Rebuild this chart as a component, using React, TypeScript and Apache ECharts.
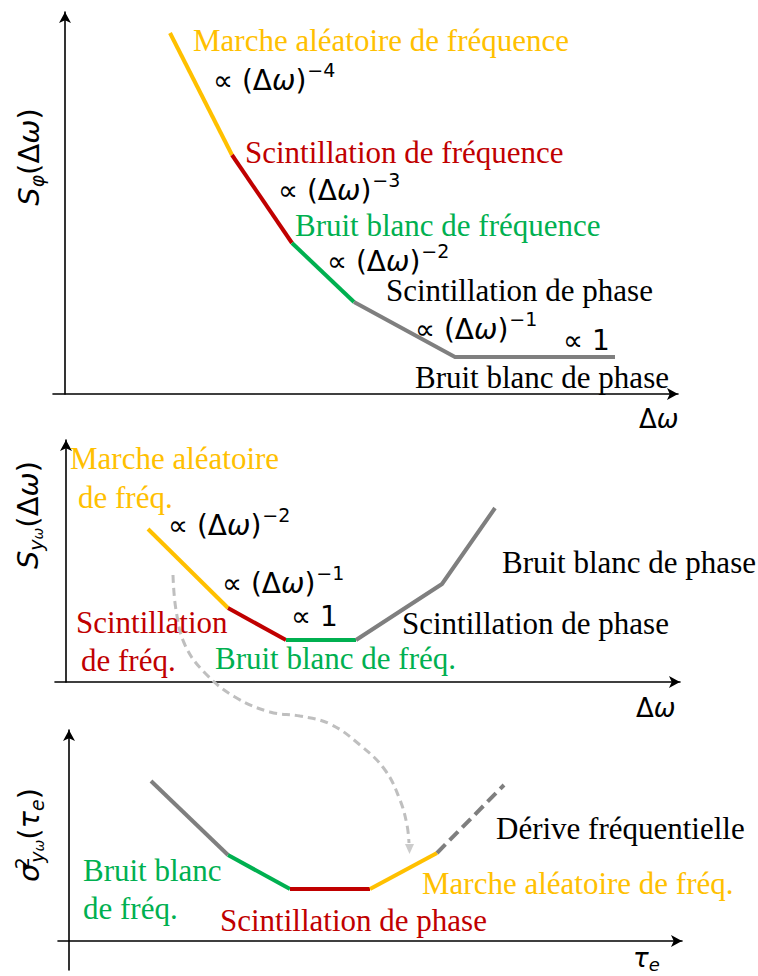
import React, { useEffect, useRef } from 'react';
import * as echarts from 'echarts';

// ---------- DATA (schematic values, 1 unit ≈ 10 px, origin at axis crossing) ----------
// Panel 1 : S_phi(Δω)
const p1X = [10.5, 16.7, 22.7, 28.9, 39.0, 55.0];
const p1Y = [36.1, 23.9, 15.1, 9.2, 3.7, 3.7];
// Panel 2 : S_yω(Δω)
const p2X = [8.2, 16.2, 22.0, 29.0, 37.6, 42.9];
const p2Y = [15.3, 7.4, 4.2, 4.2, 9.8, 17.4];
// Panel 3 : σ²_yω(τe)
const p3X = [8.2, 15.9, 22.1, 30.1, 36.8, 43.5];
const p3Y = [16.0, 8.6, 5.2, 5.2, 8.8, 15.6];
// Dashed grey connecting arrow (page coordinates)
const arcX = [173, 176, 185, 205, 235, 270, 300, 330, 360, 385, 400, 407, 409];
const arcY = [575, 610, 645, 673, 697, 712, 716, 724, 745, 770, 800, 825, 843];
const arcTip = [409.5, 849];

// Labels
const p1Names = ['Marche aléatoire de fréquence', 'Scintillation de fréquence', 'Bruit blanc de fréquence', 'Scintillation de phase', 'Bruit blanc de phase'];
const p1Exps = ['−4', '−3', '−2', '−1'];
const p2Names = ['Marche aléatoire', 'de fréq.', 'Scintillation', 'de fréq.', 'Bruit blanc de fréq.', 'Bruit blanc de phase', 'Scintillation de phase'];
const p2Exps = ['−2', '−1'];
const p3Names = ['Bruit blanc', 'de fréq.', 'Scintillation de phase', 'Marche aléatoire de fréq.', 'Dérive fréquentielle'];

// ---------- STYLES ----------
const SERIF = '"Liberation Serif", "Times New Roman", serif';
const MATH = '"DejaVu Sans", sans-serif';
const MATH_SIZE = 28;
const SUP_SIZE = 19;
const C: Record<string, string> = {
  yellow: '#FFC000', red: '#C00000', green: '#00B050', gray: '#7F7F7F', black: '#000000', arrow: '#BFBFBF',
};
const p1Colors = ['yellow', 'red', 'green', 'gray', 'gray'];
const p2Colors = ['yellow', 'red', 'green', 'gray', 'gray'];
const p3Colors = ['gray', 'green', 'red', 'yellow', 'gray'];
const p1Dash = [false, false, false, false, false];
const p3Dash = [false, false, false, false, true];

function buildSegments(xs: number[], ys: number[], colors: string[], dashes: boolean[], idx: number) {
  const out: any[] = [];
  let start = 0;
  for (let i = 1; i <= colors.length; i++) {
    if (i === colors.length || colors[i] !== colors[start] || dashes[i] !== dashes[start]) {
      const data: number[][] = [];
      for (let k = start; k <= i; k++) data.push([xs[k], ys[k]]);
      out.push({
        type: 'line', xAxisIndex: idx, yAxisIndex: idx, data, symbol: 'none', showSymbol: false, silent: true, z: 3,
        lineStyle: { color: C[colors[start]], width: 4, type: dashes[start] ? [12, 6] : 'solid', join: 'round' },
      });
      start = i;
    }
  }
  return out;
}

function axisPair(idx: number, xmin: number, xmax: number, ymin: number, ymax: number) {
  const line = { show: true, onZero: true, symbol: ['none', 'arrow'], symbolSize: [9, 11], lineStyle: { color: '#000', width: 1.6 } };
  const common = { axisTick: { show: false }, axisLabel: { show: false }, splitLine: { show: false } };
  return {
    x: { type: 'value', gridIndex: idx, min: xmin, max: xmax, axisLine: line, ...common },
    y: { type: 'value', gridIndex: idx, min: ymin, max: ymax, axisLine: line, ...common },
  };
}

function serif(text: string, x: number, y: number, color: string) {
  return {
    type: 'text', x, y, silent: true, z: 10,
    style: { text, fill: color, fontFamily: SERIF, fontSize: 31, align: 'left', verticalAlign: 'middle', textAlign: 'left', textVerticalAlign: 'middle' },
  };
}

let measureCtx: CanvasRenderingContext2D | null = null;
function measure(text: string, font: string) {
  if (!measureCtx) measureCtx = document.createElement('canvas').getContext('2d');
  if (!measureCtx) return text.length * 15;
  measureCtx.font = font;
  return measureCtx.measureText(text).width;
}

const mathRich = {
  b: { fontFamily: MATH, fontSize: MATH_SIZE, lineHeight: 30, fill: '#000' },
  i: { fontFamily: MATH, fontSize: MATH_SIZE, fontStyle: 'italic', lineHeight: 30, fill: '#000' },
};

function law(x: number, y: number, exp: string | null): any[] {
  const base = {
    type: 'text', x, y, silent: true, z: 10,
    style: {
      text: exp ? '{b|∝ (Δ}{i|ω}{b|)}' : '{b|∝ 1}', rich: mathRich,
      align: 'left', verticalAlign: 'middle', textAlign: 'left', textVerticalAlign: 'middle',
    },
  };
  if (!exp) return [base];
  const w = measure('∝ (Δ', `${MATH_SIZE}px "DejaVu Sans"`)
    + measure('ω', `italic ${MATH_SIZE}px "DejaVu Sans"`)
    + measure(')', `${MATH_SIZE}px "DejaVu Sans"`);
  const sup = {
    type: 'text', x: x + w + 1, y: y - 10, silent: true, z: 10,
    style: {
      text: exp, fill: '#000', fontFamily: MATH, fontSize: SUP_SIZE,
      align: 'left', verticalAlign: 'middle', textAlign: 'left', textVerticalAlign: 'middle',
    },
  };
  return [base, sup];
}

const symRich = {
  b: { fontFamily: MATH, fontSize: 29, lineHeight: 34, fill: '#000' },
  it: { fontFamily: MATH, fontSize: 29, fontStyle: 'italic', lineHeight: 34, fill: '#000' },
  sub: { fontFamily: MATH, fontSize: 19, fontStyle: 'italic', lineHeight: 16, verticalAlign: 'bottom', fill: '#000' },
  subsub: { fontFamily: MATH, fontSize: 14, fontStyle: 'italic', lineHeight: 6, verticalAlign: 'bottom', fill: '#000' },
  sup: { fontFamily: MATH, fontSize: 19, lineHeight: 16, verticalAlign: 'top', width: 1, fill: '#000' },
};

const axRich = {
  b: { fontFamily: MATH, fontSize: 26, lineHeight: 30, fill: '#000' },
  it: { fontFamily: MATH, fontSize: 26, fontStyle: 'italic', lineHeight: 30, fill: '#000' },
  sub: { fontFamily: MATH, fontSize: 18, fontStyle: 'italic', lineHeight: 14, verticalAlign: 'bottom', fill: '#000' },
};

function sym(text: string, x: number, y: number, rotated: boolean) {
  return {
    type: 'text', x, y, silent: true, z: 10, rotation: rotated ? Math.PI / 2 : 0,
    style: {
      text, rich: rotated ? symRich : axRich,
      align: rotated ? 'center' : 'left', verticalAlign: 'middle',
      textAlign: rotated ? 'center' : 'left', textVerticalAlign: 'middle',
    },
  };
}

function buildOption() {
  const a1 = axisPair(0, -1.2, 61.3, 0, 38.2);
  const a2 = axisPair(1, -1.1, 61.4, 0, 24.2);
  const a3 = axisPair(2, -1.1, 61.3, -2.9, 21.1);
  const overlayX = { type: 'value', gridIndex: 3, min: 0, max: 758, show: false };
  const overlayY = { type: 'value', gridIndex: 3, min: 0, max: 976, inverse: true, show: false };

  const series: any[] = [
    ...buildSegments(p1X, p1Y, p1Colors, p1Dash, 0),
    ...buildSegments(p2X, p2Y, p2Colors, p1Dash, 1),
    ...buildSegments(p3X, p3Y, p3Colors, p3Dash, 2),
    {
      type: 'line', xAxisIndex: 3, yAxisIndex: 3, smooth: 0.4, symbol: 'none', showSymbol: false, silent: true, z: 2,
      data: arcX.map((x, i) => [x, arcY[i]]),
      lineStyle: { color: C.arrow, width: 3, type: [8, 5] },
    },
    {
      type: 'scatter', xAxisIndex: 3, yAxisIndex: 3, silent: true, z: 2,
      data: [arcTip], symbol: 'triangle', symbolSize: [9, 10], symbolRotate: 180,
      itemStyle: { color: C.arrow },
    },
  ];

  const graphic: any[] = [
    // Panel 1
    serif(p1Names[0], 193, 40, C.yellow),
    serif(p1Names[1], 245, 152, C.red),
    serif(p1Names[2], 295, 225, C.green),
    serif(p1Names[3], 386, 290, C.black),
    serif(p1Names[4], 415, 377, C.black),
    ...law(213, 80, p1Exps[0]),
    ...law(278, 190, p1Exps[1]),
    ...law(327, 261, p1Exps[2]),
    ...law(415, 329, p1Exps[3]),
    ...law(563, 340, null),
    sym('{b|Δ}{it|ω}', 639, 419, false),
    sym('{it|S}{sub|φ}{b|(Δ}{it|ω}{b|)}', 29, 157, true),
    // Panel 2
    serif(p2Names[0], 70, 458, C.yellow),
    serif(p2Names[1], 78, 497, C.yellow),
    serif(p2Names[2], 76, 622, C.red),
    serif(p2Names[3], 81, 660, C.red),
    serif(p2Names[4], 215, 658, C.green),
    serif(p2Names[5], 502, 562, C.black),
    serif(p2Names[6], 402, 623, C.black),
    ...law(168, 525, p2Exps[0]),
    ...law(222, 583, p2Exps[1]),
    ...law(291, 616, null),
    sym('{b|Δ}{it|ω}', 636, 708, false),
    sym('{it|S}{sub|y}{subsub|ω}{b|(Δ}{it|ω}{b|)}', 28, 515, true),
    // Panel 3
    serif(p3Names[0], 83, 870, C.green),
    serif(p3Names[1], 83, 908, C.green),
    serif(p3Names[2], 220, 920, C.red),
    serif(p3Names[3], 422, 883, C.yellow),
    serif(p3Names[4], 496, 828, C.black),
    sym('{it|τ}{sub|e}', 633, 958, false),
    sym('{it|σ}{sup|2}{sub|y}{subsub|ω}{b|(}{it|τ}{sub|e}{b|)}', 29, 835, true),
  ];

  return {
    animation: false,
    backgroundColor: '#ffffff',
    grid: [
      { left: 53, top: 12, right: 80, bottom: 582 },
      { left: 55, top: 440, right: 78, bottom: 294 },
      { left: 58, top: 730, right: 76, bottom: 6 },
      { left: 0, top: 0, right: 0, bottom: 0 },
    ],
    xAxis: [a1.x, a2.x, a3.x, overlayX],
    yAxis: [a1.y, a2.y, a3.y, overlayY],
    series,
    graphic,
  };
}

export default function App() {
  const ref = useRef<HTMLDivElement>(null);
  useEffect(() => {
    if (!ref.current) return;
    const chart = echarts.init(ref.current, null, { renderer: 'svg' });
    chart.setOption(buildOption() as any);
    return () => chart.dispose();
  }, []);
  return (
    <div
      ref={ref}
      style={{ position: 'absolute', left: 0, top: 0, width: 758, height: 976, background: '#fff' }}
    />
  );
}
